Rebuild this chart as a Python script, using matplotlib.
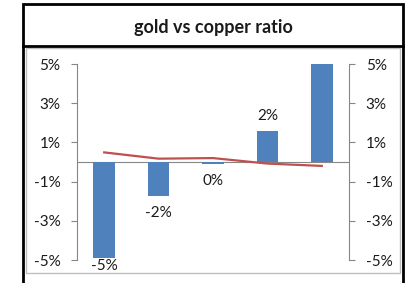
import matplotlib.pyplot as plt
from matplotlib.patches import Rectangle
from matplotlib.lines import Line2D
from matplotlib.ticker import FuncFormatter

plt.rcParams['font.family'] = ['Lato', 'DejaVu Sans']

# data (percent)
categories = ['1', '2', '3', '4', '5']
bar_values = [-4.9, -1.73, -0.1, 1.58, 5.0]
bar_labels = ['-5%', '-2%', '0%', '2%', '5%']
ratio_values = [0.49, 0.17, 0.2, -0.08, -0.2]
ticks = [-5, -3, -1, 1, 3, 5]

blue = '#4F81BD'
red = '#C0504D'
grey = '#868686'
txt = '#1a1a1a'

W, H = 406, 283
fig = plt.figure(figsize=(W / 100, H / 100), dpi=100)

def fx(px):
    return px / W

def fy(py):
    return 1 - py / H

# outer black frame with title box, inner grey chart box
fig.add_artist(Rectangle((fx(23), fy(290)), fx(380), fy(4) - fy(290),
                         fill=False, edgecolor='black', linewidth=2,
                         transform=fig.transFigure))
fig.add_artist(Line2D([fx(23), fx(403)], [fy(46), fy(46)], color='black',
                      linewidth=2, transform=fig.transFigure))
fig.add_artist(Rectangle((fx(26.5), fy(273)), fx(373.5), fy(48) - fy(273),
                         fill=False, edgecolor='#BFBFBF', linewidth=1,
                         transform=fig.transFigure))
fig.text(fx(213), fy(27), 'gold vs copper ratio', ha='center', va='center',
         fontsize=13, fontweight='bold', color=txt)

ax = fig.add_axes([fx(77), fy(260), fx(349) - fx(77), fy(64) - fy(260)])
x = list(range(len(categories)))
ax.bar(x, bar_values, width=0.4, color=blue, zorder=2)
ax.axhline(0, color=grey, linewidth=0.8, zorder=1)
ax.set_xlim(-0.5, len(categories) - 0.5)
ax.set_ylim(-5, 5)

for xi, v, lab in zip(x, bar_values, bar_labels):
    if v >= 5:
        continue
    if v >= 0:
        yl = v + 0.75
    else:
        yl = max(v - 0.85, -5.3)
    ax.text(xi, yl, lab, ha='center', va='center', fontsize=11,
            color=txt, clip_on=False)

pct = FuncFormatter(lambda v, p: f'{v:.0f}%')
ax.set_yticks(ticks)
ax.yaxis.set_major_formatter(pct)
ax.set_xticks([])
ax.tick_params(axis='y', length=4, width=0.8, color=grey, labelsize=11,
               labelcolor=txt, pad=8)
for s in ['top', 'right', 'bottom']:
    ax.spines[s].set_visible(False)
ax.spines['left'].set_color(grey)
ax.spines['left'].set_linewidth(0.8)

ax2 = ax.twinx()
ax2.plot(x, ratio_values, color=red, linewidth=1.6, zorder=3)
ax2.set_ylim(-5, 5)
ax2.set_yticks(ticks)
ax2.yaxis.set_major_formatter(pct)
ax2.tick_params(axis='y', length=4, width=0.8, color=grey, labelsize=11,
                labelcolor=txt, pad=8)
for s in ['top', 'left', 'bottom']:
    ax2.spines[s].set_visible(False)
ax2.spines['right'].set_color(grey)
ax2.spines['right'].set_linewidth(0.8)

fig.savefig('out.png', dpi=100)
